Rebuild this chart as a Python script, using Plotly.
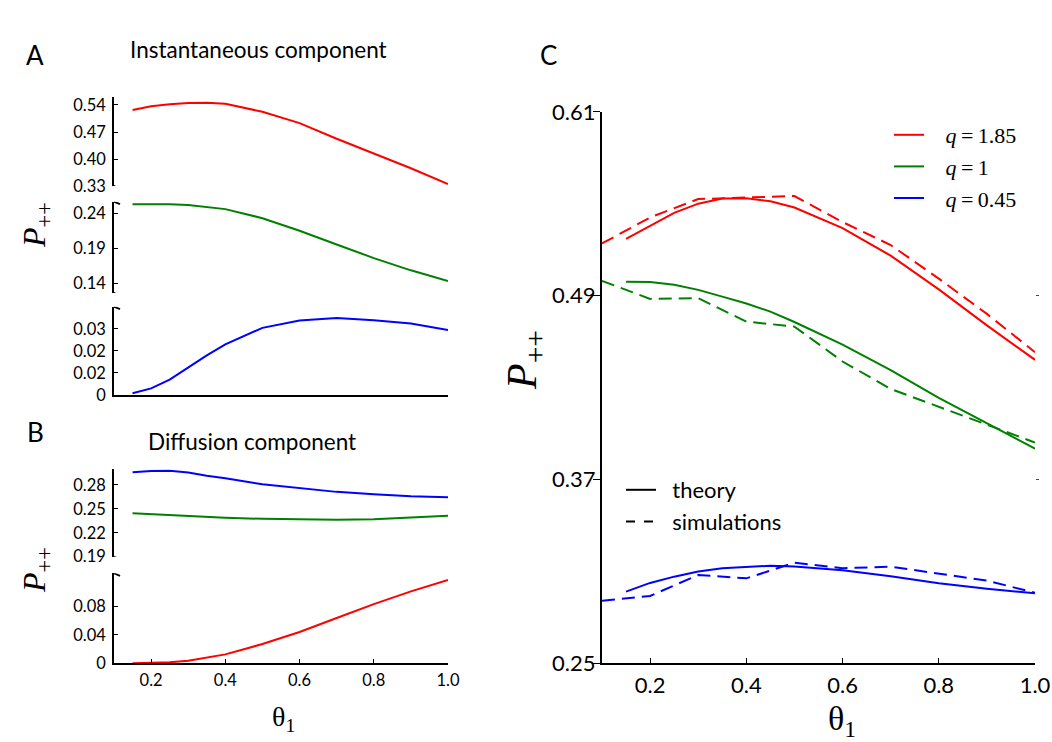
import plotly.graph_objects as go

# ---------------- data ----------------
# Panel A: instantaneous component (theory)
theta_ab = [0.15, 0.2, 0.25, 0.3, 0.35, 0.4, 0.5, 0.6, 0.7, 0.8, 0.9, 1.0]
a_red = [0.527, 0.537, 0.542, 0.545, 0.546, 0.543, 0.5225, 0.493, 0.4526, 0.4147, 0.376, 0.335]
a_green = [0.253, 0.2533, 0.253, 0.252, 0.2495, 0.246, 0.233, 0.215, 0.1955, 0.176, 0.1585, 0.1433]
a_blue = [0.0008, 0.003, 0.007, 0.0125, 0.018, 0.023, 0.0305, 0.0338, 0.035, 0.034, 0.0325, 0.0295]

# Panel B: diffusion component (theory)
b_blue = [0.2959, 0.2975, 0.2979, 0.2955, 0.2915, 0.2885, 0.2808, 0.2758, 0.2713, 0.2683, 0.2658, 0.2646]
b_green = [0.2446, 0.2435, 0.2422, 0.241, 0.2398, 0.2388, 0.2375, 0.2368, 0.2363, 0.237, 0.239, 0.2413]
b_red = [0.0, 0.0003, 0.0015, 0.0035, 0.0075, 0.0125, 0.027, 0.044, 0.0635, 0.083, 0.101, 0.117]

# Panel C: theory and simulations
theta_c = [0.15, 0.2, 0.25, 0.3, 0.35, 0.4, 0.45, 0.5, 0.6, 0.7, 0.8, 0.9, 1.0]
c_red = [0.527, 0.5355, 0.544, 0.550, 0.5533, 0.5536, 0.5516, 0.5475, 0.534, 0.516, 0.494, 0.4705, 0.448]
c_green = [0.499, 0.4988, 0.497, 0.4937, 0.4893, 0.4848, 0.4795, 0.4727, 0.458, 0.4413, 0.4232, 0.4065, 0.390]
c_blue = [0.2966, 0.3023, 0.3064, 0.3098, 0.3119, 0.3129, 0.3135, 0.3131, 0.3106, 0.3066, 0.3021, 0.2985, 0.2955]

theta_sim = [0.1, 0.2, 0.3, 0.4, 0.5, 0.6, 0.7, 0.8, 0.9, 1.0]
s_red = [0.524, 0.541, 0.553, 0.554, 0.555, 0.538, 0.523, 0.501, 0.478, 0.453]
s_green = [0.4996, 0.4878, 0.4883, 0.473, 0.4697, 0.4469, 0.429, 0.4175, 0.4055, 0.394]
s_blue = [0.2907, 0.2938, 0.3075, 0.3053, 0.3155, 0.3119, 0.3129, 0.3082, 0.3038, 0.2959]

q_labels = ["1.85", "1", "0.45"]
x_ticks = [0.2, 0.4, 0.6, 0.8, 1.0]
x_ticktext = ["0.2", "0.4", "0.6", "0.8", "1.0"]
a_top_ticks = [0.33, 0.40, 0.47, 0.54]
a_mid_ticks = [0.14, 0.19, 0.24]
a_bot_ticks = [0, 0.01, 0.02, 0.03]
a_bot_text = ["0", "0.02", "0.02", "0.03"]
b_top_ticks = [0.19, 0.22, 0.25, 0.28]
b_bot_ticks = [0, 0.04, 0.08]
c_y_ticks = [0.25, 0.37, 0.49, 0.61]
c_right_ticks = [0.37, 0.49]

RED, GREEN, BLUE = "#ff0000", "#008000", "#0000ff"
W, H = 1052, 742
SANS = "Lato, 'Liberation Sans', sans-serif"
SERIF = "'Liberation Serif', 'DejaVu Serif', serif"
NB = "&nbsp;"


def px(p):
    return p / W


def py(p):
    return 1 - p / H


fig = go.Figure()

# Panel A
fig.add_trace(go.Scatter(x=theta_ab, y=a_red, xaxis="x", yaxis="y", mode="lines",
                         line=dict(color=RED, width=2), showlegend=False))
fig.add_trace(go.Scatter(x=theta_ab, y=a_green, xaxis="x", yaxis="y2", mode="lines",
                         line=dict(color=GREEN, width=2), showlegend=False))
fig.add_trace(go.Scatter(x=theta_ab, y=a_blue, xaxis="x", yaxis="y3", mode="lines",
                         line=dict(color=BLUE, width=2), showlegend=False))
# Panel B
fig.add_trace(go.Scatter(x=theta_ab, y=b_blue, xaxis="x2", yaxis="y4", mode="lines",
                         line=dict(color=BLUE, width=2), showlegend=False))
fig.add_trace(go.Scatter(x=theta_ab, y=b_green, xaxis="x2", yaxis="y4", mode="lines",
                         line=dict(color=GREEN, width=2), showlegend=False))
fig.add_trace(go.Scatter(x=theta_ab, y=b_red, xaxis="x2", yaxis="y5", mode="lines",
                         line=dict(color=RED, width=2), showlegend=False))
# Panel C theory
for ys, col, q in [(c_red, RED, q_labels[0]), (c_green, GREEN, q_labels[1]), (c_blue, BLUE, q_labels[2])]:
    fig.add_trace(go.Scatter(x=theta_c, y=ys, xaxis="x3", yaxis="y6", mode="lines",
                             line=dict(color=col, width=2),
                             name=NB * 3 + "<i>q</i>\u2009=\u2009" + q, legend="legend"))
# Panel C simulations
for ys, col in [(s_red, RED), (s_green, GREEN), (s_blue, BLUE)]:
    fig.add_trace(go.Scatter(x=theta_sim, y=ys, xaxis="x3", yaxis="y6", mode="lines",
                             line=dict(color=col, width=2, dash="13px,7px"), showlegend=False))
# style legend entries
fig.add_trace(go.Scatter(x=[None], y=[None], xaxis="x3", yaxis="y6", mode="lines",
                         line=dict(color="black", width=2), name=NB * 2 + "theory", legend="legend2"))
fig.add_trace(go.Scatter(x=[None], y=[None], xaxis="x3", yaxis="y6", mode="lines",
                         line=dict(color="black", width=2, dash="9px,9px"),
                         name=NB * 2 + "simulations", legend="legend2"))
# empty trace so that the right-hand tick axis of panel C is drawn
fig.add_trace(go.Scatter(x=[None], y=[None], xaxis="x3", yaxis="y7", mode="lines",
                         showlegend=False, hoverinfo="skip"))

axis_common = dict(showgrid=False, zeroline=False, showline=True, linecolor="black",
                   tickcolor="black", color="black", automargin=False)

ab_dom = [px(114), px(448)]
ytick_ab = dict(ticks="inside", ticklen=4, tickwidth=1.2, linewidth=1.8,
                tickfont=dict(family=SANS, size=16.5, color="black"), ticklabelstandoff=3)

fig.update_layout(
    width=W, height=H, margin=dict(l=0, r=0, t=0, b=0, autoexpand=False),
    paper_bgcolor="white", plot_bgcolor="white",
    xaxis=dict(domain=ab_dom, range=[0.1, 1.0], anchor="y3", ticks="", showticklabels=False,
               linewidth=1.8, **axis_common),
    yaxis=dict(domain=[py(186), py(96.7)], range=[0.33, 0.5615], anchor="x",
               tickvals=a_top_ticks, ticktext=["%.2f" % v for v in a_top_ticks], **ytick_ab, **axis_common),
    yaxis2=dict(domain=[py(293), py(201.7)], range=[0.1261, 0.2566], anchor="x",
                tickvals=a_mid_ticks, ticktext=["%.2f" % v for v in a_mid_ticks], **ytick_ab, **axis_common),
    yaxis3=dict(domain=[py(395), py(306.7)], range=[0, 0.0401], anchor="x",
                tickvals=a_bot_ticks, ticktext=a_bot_text, **ytick_ab, **axis_common),
    xaxis2=dict(domain=ab_dom, range=[0.1, 1.0], anchor="y5", ticks="inside", ticklen=4,
                tickwidth=1.2, linewidth=1.8, tickvals=x_ticks, ticktext=x_ticktext,
                tickfont=dict(family=SANS, size=16.5, color="black"), ticklabelstandoff=1, **axis_common),
    yaxis4=dict(domain=[py(556.7), py(469.3)], range=[0.19, 0.2996], anchor="x2",
                tickvals=b_top_ticks, ticktext=["%.2f" % v for v in b_top_ticks], **ytick_ab, **axis_common),
    yaxis5=dict(domain=[py(663.3), py(573.3)], range=[0, 0.1263], anchor="x2",
                tickvals=b_bot_ticks, ticktext=["0", "0.04", "0.08"], **ytick_ab, **axis_common),
    xaxis3=dict(domain=[px(602), px(1035)], range=[0.1, 1.0], anchor="y6", ticks="inside",
                ticklen=5, tickwidth=1.4, linewidth=2.2, tickvals=x_ticks, ticktext=x_ticktext,
                tickfont=dict(family=SANS, size=22, color="black"), ticklabelstandoff=1, **axis_common),
    yaxis6=dict(domain=[py(663), py(111.8)], range=[0.25, 0.61], anchor="x3", ticks="outside",
                ticklen=7, tickwidth=1.4, linewidth=2.2, tickvals=c_y_ticks,
                ticktext=["%.2f" % v for v in c_y_ticks],
                tickfont=dict(family=SANS, size=22, color="black"), ticklabelstandoff=-7, **axis_common),
    yaxis7=dict(domain=[py(663), py(111.8)], range=[0.25, 0.61], anchor="x3", overlaying="y6",
                side="right", showgrid=False, zeroline=False, showline=False, ticks="outside",
                ticklen=3, tickwidth=1, tickcolor="#444", tickvals=c_right_ticks, showticklabels=False,
                automargin=False),
    legend=dict(x=px(889), y=py(114), xanchor="left", yanchor="top", bgcolor="rgba(0,0,0,0)",
                font=dict(family=SERIF, size=22, color="black"), itemwidth=30, tracegroupgap=0),
    legend2=dict(x=px(621), y=py(469), xanchor="left", yanchor="top", bgcolor="rgba(0,0,0,0)",
                 font=dict(family=SANS, size=22, color="black"), itemwidth=30),
)

# break marks on the broken axes
breaks = [("x", "y", 0.33), ("x", "y2", 0.2566), ("x", "y2", 0.1261), ("x", "y3", 0.0401),
          ("x2", "y4", 0.19), ("x2", "y5", 0.1263)]
for xr, yr, yv in breaks:
    fig.add_shape(type="line", xref=xr, yref=yr, xsizemode="pixel", xanchor=0.1, x0=-6, x1=6,
                  ysizemode="pixel", yanchor=yv, y0=2.5, y1=-2.5,
                  line=dict(color="black", width=1.8))

ann = [
    dict(x=px(35), y=py(55), text="A", font=dict(family=SANS, size=26)),
    dict(x=px(35), y=py(432), text="B", font=dict(family=SANS, size=26)),
    dict(x=px(548), y=py(55), text="C", font=dict(family=SANS, size=26)),
    dict(x=px(258), y=py(50), text="Instantaneous component", font=dict(family=SANS, size=22.5)),
    dict(x=px(252), y=py(442), text="Diffusion component", font=dict(family=SANS, size=22.5)),
    dict(x=px(36), y=py(225), text="<i>P</i><sub>++</sub>", textangle=-90,
         font=dict(family=SERIF, size=32)),
    dict(x=px(36), y=py(570), text="<i>P</i><sub>++</sub>", textangle=-90,
         font=dict(family=SERIF, size=32)),
    dict(x=px(525), y=py(360), text="<i>P</i><sub>++</sub>", textangle=-90,
         font=dict(family=SERIF, size=42)),
    dict(x=px(283), y=py(718), text="θ<sub>1</sub>", font=dict(family=SERIF, size=28)),
    dict(x=px(842), y=py(721), text="θ<sub>1</sub>", font=dict(family=SERIF, size=34)),
]
for a in ann:
    a.update(xref="paper", yref="paper", showarrow=False, xanchor="center", yanchor="middle")
    a["font"]["color"] = "black"
    fig.add_annotation(**a)

fig.write_html("out.html", config={"displayModeBar": False},
               post_script="document.body.style.margin='0';document.body.style.overflow='hidden';")
